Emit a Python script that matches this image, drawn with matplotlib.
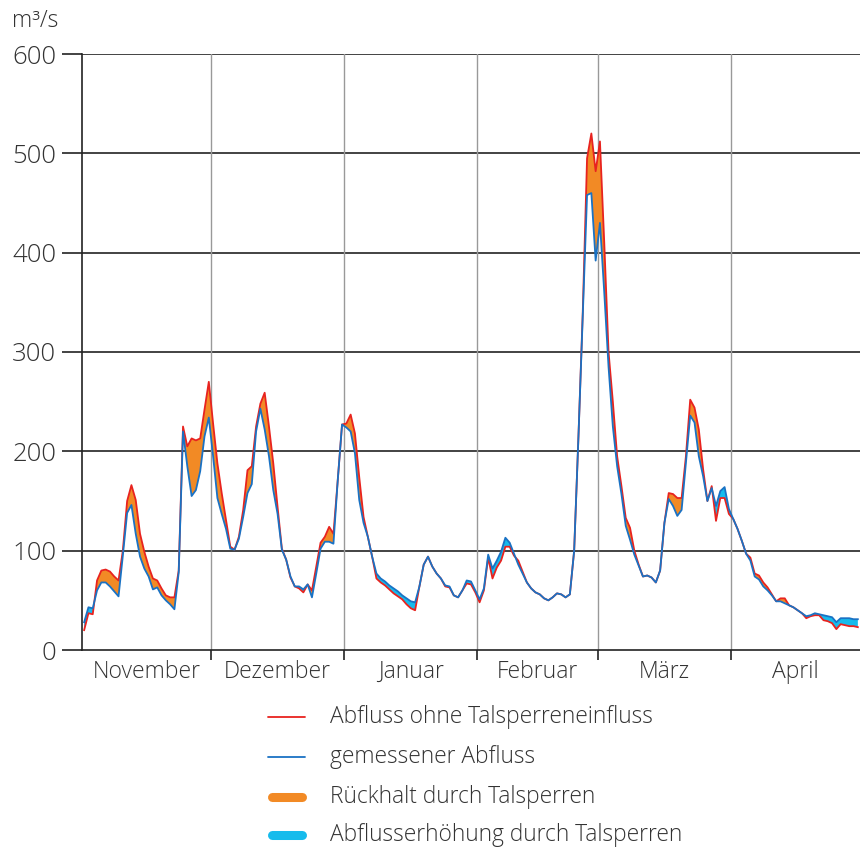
import numpy as np
import matplotlib
matplotlib.use("Agg")
import matplotlib.pyplot as plt
from matplotlib.lines import Line2D

plt.rcParams['font.family'] = ['Open Sans', 'DejaVu Sans']
plt.rcParams['font.weight'] = 'light'

# Tageswerte (m³/s), 1. November bis 30. April
MONTHS = ["November", "Dezember", "Januar", "Februar", "März", "April"]
MONTH_DAYS = [30, 31, 31, 28, 31, 30]

# Abfluss ohne Talsperreneinfluss
red_nov = [20, 37, 36, 70, 80, 81, 79, 74, 70, 100, 150, 166, 151, 117, 99,
           84, 72, 70, 62, 55, 53, 53, 80, 225, 205, 213, 211, 213, 242, 270]
red_dez = [228, 188, 158, 131, 104, 101, 114, 141, 181, 185, 225, 248, 259, 225, 188,
           144, 102, 91, 73, 64, 62, 58, 66, 60, 84, 108, 114, 124, 117, 171, 227]
red_jan = [228, 237, 218, 174, 134, 114, 94, 72, 68, 65, 61, 57, 54, 51, 46,
           42, 40, 64, 86, 94, 84, 77, 72, 64, 63, 55, 53, 60, 67, 66, 58]
red_feb = [48, 60, 93, 72, 83, 90, 104, 104, 95, 90, 79, 68, 62, 58, 56,
           52, 50, 53, 57, 56, 53, 56, 100, 215, 340, 495, 520, 482]
red_mar = [512, 410, 300, 250, 195, 165, 133, 123, 100, 86, 74, 75, 73, 68, 80,
           128, 158, 157, 153, 153, 195, 252, 244, 222, 182, 150, 165, 130, 153, 153, 137]
red_apr = [132, 122, 110, 97, 93, 77, 75, 68, 63, 56, 49, 52, 52, 45, 43,
           40, 37, 32, 34, 35, 35, 30, 29, 27, 21, 26, 25, 24, 24, 23]

# gemessener Abfluss
blue_nov = [28, 43, 42, 60, 68, 68, 64, 59, 54, 95, 138, 146, 117, 94, 82,
            74, 61, 63, 55, 50, 46, 41, 78, 220, 185, 155, 161, 180, 215, 234]
blue_dez = [195, 153, 137, 122, 102, 101, 112, 134, 158, 167, 220, 243, 222, 195, 161,
            137, 101, 91, 74, 64, 64, 61, 66, 53, 77, 102, 109, 109, 107, 171, 227]
blue_jan = [224, 220, 198, 151, 128, 114, 94, 77, 72, 69, 65, 62, 59, 55, 52,
            49, 48, 64, 86, 94, 84, 77, 72, 65, 64, 55, 53, 60, 70, 69, 60]
blue_feb = [51, 62, 96, 82, 90, 99, 113, 108, 97, 86, 77, 68, 62, 58, 56,
            52, 50, 53, 57, 56, 53, 56, 100, 215, 335, 458, 460, 392]
blue_mar = [430, 360, 285, 225, 185, 157, 125, 111, 96, 85, 74, 75, 73, 68, 80,
            128, 152, 145, 135, 141, 189, 236, 229, 195, 175, 150, 163, 145, 160, 164, 142]
blue_apr = [132, 122, 110, 97, 90, 74, 71, 64, 60, 55, 49, 49, 47, 45, 43,
            40, 37, 34, 35, 37, 36, 35, 34, 33, 28, 32, 32, 32, 31, 31]

LEGEND = ["Abfluss ohne Talsperreneinfluss", "gemessener Abfluss",
          "Rückhalt durch Talsperren", "Abflusserhöhung durch Talsperren"]

RED = "#e8231f"
BLUE = "#1a72c4"
ORANGE = "#f28a25"
CYAN = "#16bbec"
TXT = "#333333"

red = np.array(red_nov + red_dez + red_jan + red_feb + red_mar + red_apr, float)
blue = np.array(blue_nov + blue_dez + blue_jan + blue_feb + blue_mar + blue_apr, float)
days = np.arange(len(red)) + 0.5
bounds = np.concatenate([[0], np.cumsum(MONTH_DAYS)])
centers = (bounds[:-1] + bounds[1:]) / 2

fig = plt.figure(figsize=(8.6, 8.5), dpi=100)
ax = fig.add_axes([82 / 860, 1 - 650 / 850, 778 / 860, 596 / 850])

ax.fill_between(days, red, blue, where=red >= blue, interpolate=True,
                color=ORANGE, lw=0, zorder=2)
ax.fill_between(days, red, blue, where=blue > red, interpolate=True,
                color=CYAN, lw=0, zorder=2)
ax.plot(days, red, color=RED, lw=1.3, zorder=3)
ax.plot(days, blue, color=BLUE, lw=1.3, zorder=4)

ax.set_xlim(0, bounds[-1])
ax.set_ylim(0, 600)

for s in ["top", "right"]:
    ax.spines[s].set_visible(False)
ax.spines["left"].set_color("#222222")
ax.spines["bottom"].set_color("#222222")
ax.spines["left"].set_linewidth(1.2)
ax.spines["bottom"].set_linewidth(1.2)

ax.set_yticks(range(0, 601, 100))
for v in range(100, 601, 100):
    ax.axhline(v, color="#222222", lw=1.2, zorder=1)
for b in bounds[1:-1]:
    ax.axvline(b, color="#999999", lw=1.0, zorder=1)

ax.tick_params(axis="y", length=14.5, width=1.2, color="#222222", pad=4,
               labelsize=18.5, labelcolor=TXT)
ax.set_xticks(bounds[1:-1])
ax.set_xticklabels([])
ax.set_xticks(centers, minor=True)
ax.set_xticklabels(MONTHS, minor=True)
ax.tick_params(axis="x", which="major", length=7, width=1.2, color="#222222")
ax.tick_params(axis="x", which="minor", length=0, pad=7, labelsize=16.5,
               labelcolor=TXT)

fig.text(12 / 860, 1 - 21 / 850, "m³/s", fontsize=16.5, color=TXT, va="center")

# Legende
rows = [717, 757, 797, 835]
styles = [(RED, 1.3), (BLUE, 1.3), (ORANGE, 6.5), (CYAN, 6.5)]
for (c, w), y, lab in zip(styles, rows, LEGEND):
    fy = 1 - y / 850
    x0, x1 = (268, 305) if w < 2 else (272, 302)
    fig.add_artist(Line2D([x0 / 860, x1 / 860], [fy, fy], color=c, lw=w,
                          solid_capstyle="round"))
    fig.text(330 / 860, fy, lab, fontsize=16.4, color=TXT, va="center")

fig.savefig("out.png", dpi=100)
